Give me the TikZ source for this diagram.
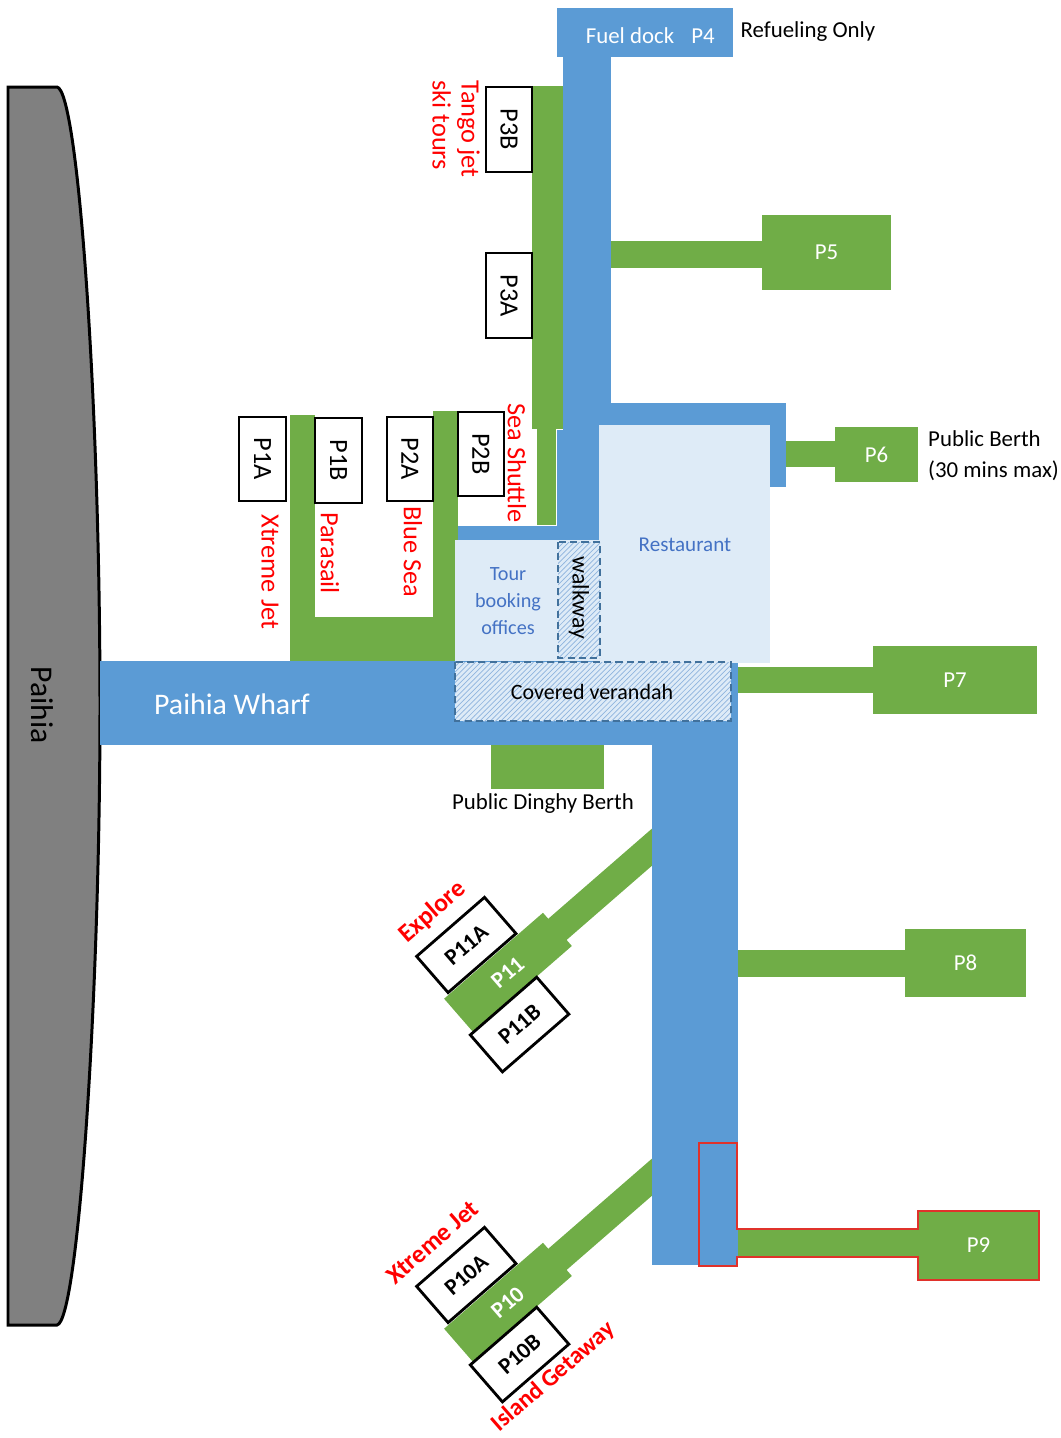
\documentclass[tikz,border=0pt]{standalone}
\usepackage{fontspec}
\setmainfont{Carlito}
\usetikzlibrary{patterns}
\definecolor{pblue}{HTML}{5B9BD5}
\definecolor{pgreen}{HTML}{70AD47}
\definecolor{paleblue}{HTML}{DEEBF7}
\definecolor{dashblue}{HTML}{41719C}
\definecolor{hatchblue}{HTML}{8FB4DE}
\definecolor{txtblue}{HTML}{4472C4}
\definecolor{landgray}{HTML}{808080}
\definecolor{hlred}{HTML}{E0322B}
\begin{document}
\begin{tikzpicture}
  [x=0.02cm, y=-0.02cm,
   berth/.style={draw,
                 line width=1.6pt,
                 fill=white,
                 inner sep=0pt,
                 font=\fontsize{15}{18}\selectfont},
   gberth/.style={fill=pgreen,
                  text=white,
                  inner sep=0pt,
                  font=\fontsize{13}{16}\selectfont},
   lbl/.style={font=\fontsize{13}{16}\selectfont},
   redlbl/.style={text=red,
                  font=\fontsize{15}{16.5}\selectfont},
   opname/.style={text=red,
                  inner sep=1pt,
                  font=\bfseries\fontsize{14.5}{17}\selectfont},
   hatched/.style={draw=dashblue,
                   dash pattern=on 4pt off 2.5pt,
                   line width=1.2pt,
                   preaction={fill=paleblue},
                   preaction={pattern=north east lines, pattern color=hatchblue}}]

  \useasboundingbox (0,0) rectangle (1061,1438);

  % the shore
  \draw[fill=landgray, line width=1.7pt] (8,87) -- (57,87)
    .. controls (78,90) and (100,400) .. (100,706)
    .. controls (100,1000) and (78,1322) .. (57,1325)
    -- (8,1325) -- cycle;
  \node[rotate=-90, font=\fontsize{18}{21}\selectfont] (paihia) at (42,705) {Paihia};

  % diagonal piers
  \foreach \oy/\pn/\tl in {848/11/Explore, 1178/10/Xtreme Jet} {
    \begin{scope}[shift={(651,\oy)}, rotate=41, transform shape]
      \fill[pgreen] (-127,-14) rectangle (40,14);
      \fill[pgreen] (-255,-22) rectangle (-124,22);
      \node[berth, minimum width=1.8cm, minimum height=0.96cm,
            font=\bfseries\fontsize{13}{16}\selectfont] (p\pn a) at (-203,-48) {P\pn A};
      \node[berth, minimum width=1.76cm, minimum height=0.98cm,
            font=\bfseries\fontsize{13}{16}\selectfont] (p\pn b) at (-215,47) {P\pn B};
      \node[text=white, font=\bfseries\fontsize{13}{16}\selectfont] (p\pn) at (-190,0) {P\pn};
      \node[opname] (op\pn) at (-207,-95) {\tl};
    \end{scope}
  }
  \begin{scope}[shift={(651,1178)}, rotate=41, transform shape]
    \node[opname, font=\bfseries\fontsize{13.8}{17}\selectfont] (op10b) at (-204,86) {Island Getaway};
  \end{scope}

  % green fingers
  \fill[pgreen] (532,86) rectangle (563,429);
  \fill[pgreen] (537,429) rectangle (556,525);
  \fill[pgreen] (290,415) rectangle (315,661);
  \fill[pgreen] (290,617) rectangle (458,661);
  \fill[pgreen] (433,411) rectangle (458,661);
  \fill[pgreen] (610,241) rectangle (762,268);
  \fill[pgreen] (786,441) rectangle (835,467);
  \fill[pgreen] (738,667) rectangle (873,693);
  \fill[pgreen] (738,950) rectangle (905,977);
  \fill[pgreen] (737,1229) rectangle (918,1257);
  \fill[pgreen] (491,745) rectangle (604,789);

  % blue walkways
  \fill[pblue] (557,8) rectangle (733,57);
  \fill[pblue] (563,8) rectangle (611,430);
  \fill[pblue] (557,430) rectangle (611,540);
  \fill[pblue] (611,403) rectangle (786,425);
  \fill[pblue] (770,403) rectangle (786,487);
  \fill[pblue] (458,526) rectangle (599,540);
  \fill[pblue] (100,661) rectangle (738,745);
  \fill[pblue] (652,661) rectangle (738,1265);

  % buildings
  \fill[paleblue] (599,425) rectangle (770,663);
  \fill[paleblue] (455,540) rectangle (599,661);
  \path[hatched] (558,542) rectangle (600,658);
  \path[hatched] (455,662) rectangle (731,721);

  % berths
  \node[berth, rotate=-90, minimum width=1.68cm, minimum height=0.94cm] (p1a) at (262.5,459) {P1A};
  \node[berth, rotate=-90, minimum width=1.7cm, minimum height=0.94cm] (p1b) at (338.5,460.5) {P1B};
  \node[berth, rotate=-90, minimum width=1.68cm, minimum height=0.92cm] (p2a) at (410,459) {P2A};
  \node[berth, rotate=-90, minimum width=1.68cm, minimum height=0.92cm] (p2b) at (481,454) {P2B};
  \node[berth, rotate=-90, minimum width=1.7cm, minimum height=0.92cm] (p3b) at (509,129.5) {P3B};
  \node[berth, rotate=-90, minimum width=1.7cm, minimum height=0.92cm] (p3a) at (509,295.5) {P3A};

  \node[gberth, minimum width=2.58cm, minimum height=1.5cm] (p5) at (826.5,252.5) {P5};
  \node[gberth, minimum width=1.66cm, minimum height=1.1cm] (p6) at (876.5,454.5) {P6};
  \node[gberth, minimum width=3.28cm, minimum height=1.36cm] (p7) at (955,680) {P7};
  \node[gberth, minimum width=2.42cm, minimum height=1.36cm] (p8) at (965.5,963) {P8};
  \node[gberth, minimum width=2.42cm, minimum height=1.38cm] (p9) at (978.5,1245.5) {P9};

  % P9 highlight
  \draw[hlred, line width=1.6pt] (699,1143) -- (737,1143) -- (737,1229) -- (918,1229)
    -- (918,1211) -- (1039,1211) -- (1039,1280) -- (918,1280) -- (918,1257)
    -- (737,1257) -- (737,1266) -- (699,1266) -- cycle;

  % labels
  \node[lbl, text=white] (fuel) at (630,36) {Fuel dock};
  \node[lbl, text=white] (p4) at (703,36) {P4};
  \node[lbl] (refuel) at (808,32) {Refueling Only};
  \node[redlbl, rotate=-90, align=left] (tango) at (456,129) {Tango jet\\ski tours};
  \node[redlbl, rotate=-90] (xjet) at (270,572) {Xtreme Jet};
  \node[redlbl, rotate=-90] (para) at (330,553) {Parasail};
  \node[redlbl, rotate=-90] (bsea) at (413,552) {Blue Sea};
  \node[redlbl, rotate=-90] (shuttle) at (517,463) {Sea Shuttle};
  \node[text=white, font=\fontsize{17}{20}\selectfont] (wharf) at (232,704) {Paihia Wharf};
  \node[font=\fontsize{12.5}{15}\selectfont] (verandah) at (592,692) {Covered verandah};
  \node[text=txtblue, font=\fontsize{12}{14}\selectfont] (rest) at (685,545) {Restaurant};
  \node[text=txtblue, align=center, font=\fontsize{11.5}{15.3}\selectfont] (tour) at (508,601) {Tour\\booking\\offices};
  \node[rotate=-90, font=\fontsize{13.5}{16}\selectfont] (walk) at (579,598) {walkway};
  \node[lbl] (dinghy) at (543,804) {Public Dinghy Berth};
  \node[lbl, align=left, anchor=west, font=\fontsize{13}{17.6}\selectfont] (pubberth) at (922,456) {Public Berth\\(30 mins max)};
\end{tikzpicture}
\end{document}
